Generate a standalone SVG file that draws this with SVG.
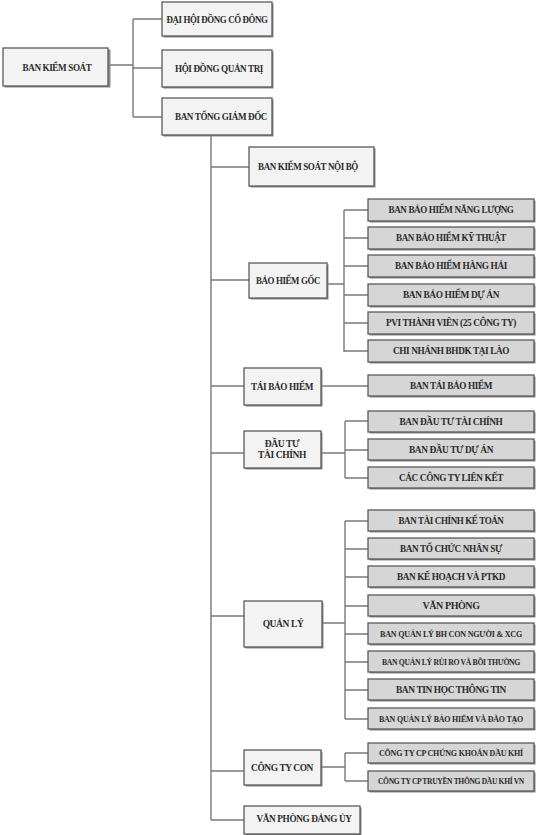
<svg xmlns="http://www.w3.org/2000/svg" width="541" height="835" viewBox="0 0 541 835">
<defs>
<style>
.bg{fill:#ffffff}
.m{fill:#f3f3f3;stroke:#5a5a5a;stroke-width:1.3}
.s{fill:#d6d6d6;stroke:#5a5a5a;stroke-width:1.3}
.sh{fill:#8a8a8a}
.t{font-family:"Liberation Serif","DejaVu Serif",serif;font-weight:bold;font-size:9.5px;fill:#2a2a2a;text-anchor:middle;letter-spacing:-0.4px}
.ts{font-size:7.8px;letter-spacing:-0.2px}
.tx{font-size:7.2px;letter-spacing:-0.3px}
.c{fill:none;stroke:#7a7a7a;stroke-width:1.4}
</style>
</defs>
<rect class="bg" x="0" y="0" width="541" height="835"/>
<g id="connectors">
<path class="c" d="M108 65 H133 M133 19 V117 M133 19 H162 M133 68 H162 M133 117 H162"/>
<path class="c" d="M211 135 V820 M211 167 H249 M211 280 H249 M211 386 H244 M211 453 H244 M211 616 H244 M211 771 H244 M211 820 H244"/>
<path class="c" d="M327 284 H344 M344 210 V352 M344 210 H368 M344 238 H368 M344 266 H368 M344 295 H368 M344 323 H368 M344 351 H368"/>
<path class="c" d="M321 386 H368"/>
<path class="c" d="M321 453 H345 M345 421 V478 M345 421 H368 M345 450 H368 M345 478 H368"/>
<path class="c" d="M322 623 H345 M345 521 V719 M345 521 H368 M345 549 H368 M345 577 H368 M345 606 H368 M345 634 H368 M345 662 H368 M345 690 H368 M345 719 H368"/>
<path class="c" d="M321 767 H345 M345 753 V781 M345 753 H368 M345 781 H368"/>
</g>
<g id="n-bks"><rect class="sh" x="4.5" y="49.5" width="106" height="38"/><rect class="m" x="3" y="48" width="105" height="38"/><text class="t" x="57" y="71" textLength="69" lengthAdjust="spacingAndGlyphs">BAN  KIỂM SOÁT</text></g>
<g id="n-dhdcd"><rect class="sh" x="163.5" y="3.5" width="110" height="34"/><rect class="m" x="162" y="2" width="110" height="34"/><text class="t" x="217" y="23" textLength="101" lengthAdjust="spacingAndGlyphs">ĐẠI HỘI ĐỒNG CỔ ĐÔNG</text></g>
<g id="n-hdqt"><rect class="sh" x="163.5" y="51.5" width="110" height="37"/><rect class="m" x="162" y="50" width="110" height="37"/><text class="t" x="219" y="72" textLength="88" lengthAdjust="spacingAndGlyphs">HỘI ĐỒNG QUẢN TRỊ</text></g>
<g id="n-btgd"><rect class="sh" x="163.5" y="99.5" width="110" height="37"/><rect class="m" x="162" y="98" width="110" height="37"/><text class="t" x="221" y="120" textLength="92" lengthAdjust="spacingAndGlyphs">BAN TỔNG GIÁM ĐỐC</text></g>
<g id="n-bksnb"><rect class="sh" x="250.5" y="148.5" width="125" height="39"/><rect class="m" x="249" y="147" width="125" height="39"/><text class="t" x="308" y="170" textLength="100" lengthAdjust="spacingAndGlyphs">BAN KIỂM SOÁT NỘI BỘ</text></g>
<g id="n-bhg"><rect class="sh" x="250.5" y="264.5" width="78" height="35"/><rect class="m" x="249" y="263" width="78" height="35"/><text class="t" x="288" y="284" textLength="64" lengthAdjust="spacingAndGlyphs">BẢO HIỂM GỐC</text></g>
<g id="n-tbh"><rect class="sh" x="245.5" y="369.5" width="77" height="37"/><rect class="m" x="244" y="368" width="77" height="37"/><text class="t" x="282" y="390" textLength="62" lengthAdjust="spacingAndGlyphs">TÁI BẢO HIỂM</text></g>
<g id="n-dttc"><rect class="sh" x="245.5" y="432.5" width="77" height="37"/><rect class="m" x="244" y="431" width="77" height="37"/><text class="t" x="282" y="447">ĐẦU TƯ</text><text class="t" x="282" y="458">TÀI CHÍNH</text></g>
<g id="n-ql"><rect class="sh" x="245.5" y="602.5" width="78" height="46"/><rect class="m" x="244" y="601" width="78" height="46"/><text class="t" x="283" y="627">QUẢN LÝ</text></g>
<g id="n-ctc"><rect class="sh" x="245.5" y="751.5" width="77" height="35"/><rect class="m" x="244" y="750" width="77" height="35"/><text class="t" x="282" y="771" textLength="62" lengthAdjust="spacingAndGlyphs">CÔNG TY CON</text></g>
<g id="n-vpdu"><rect class="sh" x="245.5" y="807.5" width="116" height="28"/><rect class="m" x="244" y="806" width="116" height="28"/><text class="t" x="304" y="822" textLength="95" lengthAdjust="spacingAndGlyphs">VĂN PHÒNG ĐẢNG ỦY</text></g>
<g id="s-nl"><rect class="sh" x="369.5" y="200.5" width="166" height="22"/><rect class="s" x="368" y="199" width="166" height="22"/><text class="t" x="451" y="213" textLength="125" lengthAdjust="spacingAndGlyphs">BAN BẢO HIỂM NĂNG LƯỢNG</text></g>
<g id="s-kt"><rect class="sh" x="369.5" y="228.5" width="166" height="22"/><rect class="s" x="368" y="227" width="166" height="22"/><text class="t" x="451" y="241" textLength="110" lengthAdjust="spacingAndGlyphs">BAN BẢO HIỂM KỸ THUẬT</text></g>
<g id="s-hh"><rect class="sh" x="369.5" y="256.5" width="166" height="22"/><rect class="s" x="368" y="255" width="166" height="22"/><text class="t" x="451" y="269" textLength="112" lengthAdjust="spacingAndGlyphs">BAN BẢO HIỂM HÀNG HẢI</text></g>
<g id="s-da"><rect class="sh" x="369.5" y="285.5" width="166" height="22"/><rect class="s" x="368" y="284" width="166" height="22"/><text class="t" x="451" y="298" textLength="96" lengthAdjust="spacingAndGlyphs">BAN BẢO HIỂM DỰ ÁN</text></g>
<g id="s-pvi"><rect class="sh" x="369.5" y="313.5" width="166" height="22"/><rect class="s" x="368" y="312" width="166" height="22"/><text class="t" x="451" y="326" textLength="130" lengthAdjust="spacingAndGlyphs">PVI THÀNH VIÊN (25 CÔNG TY)</text></g>
<g id="s-lao"><rect class="sh" x="369.5" y="341.5" width="166" height="22"/><rect class="s" x="368" y="340" width="166" height="22"/><text class="t" x="451" y="354" textLength="116" lengthAdjust="spacingAndGlyphs">CHI NHÁNH BHDK TẠI LÀO</text></g>
<g id="s-tbh"><rect class="sh" x="369.5" y="376.5" width="166" height="21"/><rect class="s" x="368" y="375" width="166" height="21"/><text class="t" x="451" y="389" textLength="82" lengthAdjust="spacingAndGlyphs">BAN TÁI BẢO HIỂM</text></g>
<g id="s-dttc"><rect class="sh" x="369.5" y="412.5" width="166" height="21"/><rect class="s" x="368" y="411" width="166" height="21"/><text class="t" x="451" y="425" textLength="103" lengthAdjust="spacingAndGlyphs">BAN ĐẦU TƯ TÀI CHÍNH</text></g>
<g id="s-dtda"><rect class="sh" x="369.5" y="440.5" width="166" height="21"/><rect class="s" x="368" y="439" width="166" height="21"/><text class="t" x="451" y="453" textLength="84" lengthAdjust="spacingAndGlyphs">BAN ĐẦU TƯ DỰ ÁN</text></g>
<g id="s-ctlk"><rect class="sh" x="369.5" y="468.5" width="166" height="21"/><rect class="s" x="368" y="467" width="166" height="21"/><text class="t" x="451" y="481" textLength="104" lengthAdjust="spacingAndGlyphs">CÁC CÔNG TY LIÊN KẾT</text></g>
<g id="s-tckt"><rect class="sh" x="369.5" y="511.5" width="166" height="21"/><rect class="s" x="368" y="510" width="166" height="21"/><text class="t" x="451" y="524" textLength="105" lengthAdjust="spacingAndGlyphs">BAN TÀI CHÍNH KẾ TOÁN</text></g>
<g id="s-tcns"><rect class="sh" x="369.5" y="539.5" width="166" height="21"/><rect class="s" x="368" y="538" width="166" height="21"/><text class="t" x="451" y="552" textLength="102" lengthAdjust="spacingAndGlyphs">BAN TỔ CHỨC NHÂN SỰ</text></g>
<g id="s-kh"><rect class="sh" x="369.5" y="567.5" width="166" height="21"/><rect class="s" x="368" y="566" width="166" height="21"/><text class="t" x="451" y="580" textLength="108" lengthAdjust="spacingAndGlyphs">BAN KẾ HOẠCH VÀ PTKD</text></g>
<g id="s-vp"><rect class="sh" x="369.5" y="596.5" width="166" height="21"/><rect class="s" x="368" y="595" width="166" height="21"/><text class="t" x="451" y="609" textLength="57" lengthAdjust="spacingAndGlyphs">VĂN PHÒNG</text></g>
<g id="s-cn"><rect class="sh" x="369.5" y="624.5" width="166" height="21"/><rect class="s" x="368" y="623" width="166" height="21"/><text class="t ts" x="451" y="637" textLength="142" lengthAdjust="spacingAndGlyphs">BAN QUẢN LÝ BH CON NGƯỜI &amp; XCG</text></g>
<g id="s-rr"><rect class="sh" x="369.5" y="652.5" width="166" height="21"/><rect class="s" x="368" y="651" width="166" height="21"/><text class="t tx" x="451" y="665" textLength="138" lengthAdjust="spacingAndGlyphs">BAN QUẢN LÝ RỦI RO VÀ BỒI THƯỜNG</text></g>
<g id="s-th"><rect class="sh" x="369.5" y="680.5" width="166" height="21"/><rect class="s" x="368" y="679" width="166" height="21"/><text class="t" x="451" y="693" textLength="110" lengthAdjust="spacingAndGlyphs">BAN TIN HỌC THÔNG TIN</text></g>
<g id="s-bhdt"><rect class="sh" x="369.5" y="709.5" width="166" height="21"/><rect class="s" x="368" y="708" width="166" height="21"/><text class="t ts" x="451" y="722" textLength="144" lengthAdjust="spacingAndGlyphs">BAN QUẢN LÝ BẢO HIỂM VÀ ĐÀO TẠO</text></g>
<g id="s-ck"><rect class="sh" x="369.5" y="744.5" width="166" height="20"/><rect class="s" x="368" y="743" width="166" height="20"/><text class="t ts" x="451" y="756" textLength="144" lengthAdjust="spacingAndGlyphs">CÔNG TY CP CHỨNG KHOÁN DẦU KHÍ</text></g>
<g id="s-tt"><rect class="sh" x="369.5" y="772.5" width="166" height="20"/><rect class="s" x="368" y="771" width="166" height="20"/><text class="t tx" x="451" y="784" textLength="146" lengthAdjust="spacingAndGlyphs">CÔNG TY CP TRUYỀN THÔNG DẦU KHÍ VN</text></g>
</svg>
